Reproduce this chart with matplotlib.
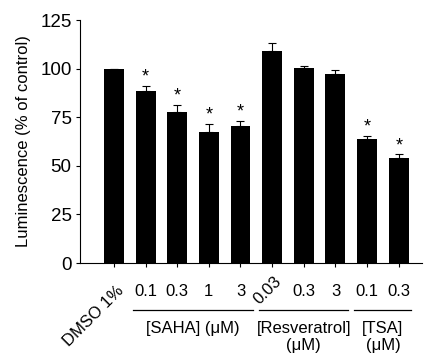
import matplotlib
matplotlib.use('Agg')
import matplotlib.pyplot as plt
import numpy as np

# 数据
labels = ['DMSO 1%', '0.1', '0.3', '1', '3', '0.03', '0.3', '3', '0.1', '0.3']
values = [100, 88.5, 77.7, 67.4, 70.5, 109.2, 100.3, 97.2, 63.6, 54.2]
errors = [0, 2.5, 3.6, 4.1, 2.5, 4.1, 0.9, 2.1, 1.7, 1.7]
signif = [False, True, True, True, True, False, False, False, True, True]
groups = ['[SAHA] (\u03bcM)', '[Resveratrol]\n(\u03bcM)', '[TSA]\n(\u03bcM)']
group_idx = [(1, 4), (5, 7), (8, 9)]

plt.rcParams['font.family'] = ['Liberation Sans', 'DejaVu Sans']

fig = plt.figure(figsize=(4.24, 3.56), dpi=100)
ax = fig.add_axes([0.1887, 0.2612, 0.8063, 0.6826])

x = np.arange(len(values))
ax.bar(x, values, width=0.63, color='black')
ax.errorbar(x, values, yerr=[np.zeros(len(errors)), errors], fmt='none',
            ecolor='black', elinewidth=0.8, capsize=2.6, capthick=0.8)

# 星号
for i in range(len(values)):
    if signif[i]:
        ax.text(x[i], values[i] + errors[i] + 4.5, '*', ha='center', va='center',
                fontsize=13)

ax.set_xlim(-1.07, 9.73)
ax.set_ylim(0, 125)
ax.set_yticks([0, 25, 50, 75, 100, 125])
ax.tick_params(axis='y', labelsize=13.5, length=3, width=0.8, pad=3)
ax.tick_params(axis='x', length=3, width=0.8)
ax.set_xticks(x)
ax.set_xticklabels([])
ax.spines['top'].set_visible(False)
ax.spines['right'].set_visible(False)
ax.spines['left'].set_linewidth(0.8)
ax.spines['bottom'].set_linewidth(0.8)
ax.set_ylabel('Luminescence (% of control)', fontsize=12, labelpad=7)

# x轴标签
trans = ax.get_xaxis_transform()
for i in range(len(labels)):
    if i == 0:
        ax.text(x[i] + 0.25, -0.105, labels[i], transform=trans, rotation=45,
                rotation_mode='anchor', ha='right', va='center', fontsize=12)
    elif labels[i] == '0.03':
        ax.text(x[i] - 0.15, -0.112, labels[i], transform=trans, rotation=45,
                rotation_mode='anchor', ha='center', va='center', fontsize=12)
    else:
        ax.text(x[i], -0.119, labels[i], transform=trans, ha='center',
                va='center', fontsize=12)

# 分组线和分组名
for (a, b), g in zip(group_idx, groups):
    ax.plot([a - 0.4, b + 0.4], [-0.193, -0.193], color='black', lw=0.9,
            transform=trans, clip_on=False)
    ax.text((a + b) / 2, -0.24, g, transform=trans, ha='center', va='top',
            fontsize=12, linespacing=1.1)

fig.savefig('out.png', dpi=100)
